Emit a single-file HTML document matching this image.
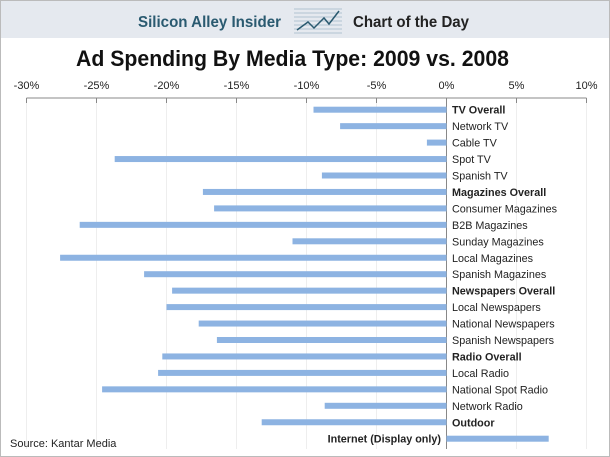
<!DOCTYPE html>
<html><head><meta charset="utf-8"><style>
body{margin:0;width:610px;height:457px;overflow:hidden;background:#fff;font-family:"Liberation Sans",sans-serif}
#wrap{position:absolute;left:0;top:0;width:608px;height:455px;border:1px solid #bbb}
#hdr{position:absolute;left:0;top:0;width:608px;height:37px;background:#e5e9ef}
</style></head><body>
<div id="wrap">
<div id="hdr"></div>
<svg id="svg" width="610" height="457" style="position:absolute;left:-1px;top:-1px">
<text x="138" y="27" textLength="143" lengthAdjust="spacingAndGlyphs" font-size="16" font-weight="bold" fill="#2a5a70">Silicon Alley Insider</text>
<g stroke="#9fb4c8" stroke-width="0.7">
<line x1="294" y1="9" x2="342" y2="9"/><line x1="294" y1="13" x2="342" y2="13"/><line x1="294" y1="17" x2="342" y2="17"/><line x1="294" y1="21" x2="342" y2="21"/><line x1="294" y1="25" x2="342" y2="25"/><line x1="294" y1="29" x2="342" y2="29"/><line x1="294" y1="33" x2="342" y2="33"/>
<polyline points="297,30 308,22 314,28 324,18 329,24 339,11" fill="none" stroke="#2a5a70" stroke-width="1.5"/></g>
<text x="353" y="27" textLength="116" lengthAdjust="spacingAndGlyphs" font-size="16" font-weight="bold" fill="#222">Chart of the Day</text>
<text x="76" y="66" textLength="433" lengthAdjust="spacingAndGlyphs" font-size="22" font-weight="bold" fill="#111">Ad Spending By Media Type: 2009 vs. 2008</text>
<g id="g"></g>
<text x="10" y="447" font-size="11" fill="#222">Source: Kantar Media</text>
</svg></div>
<script>
const categories=["TV Overall","Network TV","Cable TV","Spot TV","Spanish TV","Magazines Overall","Consumer Magazines","B2B Magazines","Sunday Magazines","Local Magazines","Spanish Magazines","Newspapers Overall","Local Newspapers","National Newspapers","Spanish Newspapers","Radio Overall","Local Radio","National Spot Radio","Network Radio","Outdoor","Internet (Display only)"];
const values=[-9.5,-7.6,-1.4,-23.7,-8.9,-17.4,-16.6,-26.2,-11,-27.6,-21.6,-19.6,-20,-17.7,-16.4,-20.3,-20.6,-24.6,-8.7,-13.2,7.3];
const bold=[1,0,0,0,0,1,0,0,0,0,0,1,0,0,0,1,0,0,0,1,1];
const ticks=[-30,-25,-20,-15,-10,-5,0,5,10];
const NS="http://www.w3.org/2000/svg",g=document.getElementById('g');
const x=v=>446.5+v*14;
const y=i=>106.7+i*16.45;
function mk(t,a){const e=document.createElementNS(NS,t);for(const k in a)e.setAttribute(k,a[k]);g.appendChild(e);return e;}
ticks.forEach(t=>{
 const gl=mk('line',{x1:x(t),x2:x(t),y1:98,y2:449,stroke:t==0?'#888':'#eee','stroke-width':1});
 
 
 const tk=mk('line',{x1:x(t),x2:x(t),y1:98,y2:103,stroke:'#888'});
 
 
 const tl=mk('text',{x:x(t),y:89,'text-anchor':'middle','font-size':11,fill:'#222'});
 tl.textContent=t+'%';
 
 
});
const ax=mk('line',{x1:x(-30),x2:x(10),y1:98,y2:98,stroke:'#888'});


categories.forEach((c,i)=>{
 const v=values[i];
 const b=mk('rect',{x:Math.min(x(0),x(v)),y:y(i),width:Math.abs(x(v)-x(0)),height:6,fill:'#8db3e2'});
 
 
 const neg=v<0;
 const t=mk('text',{x:neg?452:441,y:y(i)+7,'text-anchor':neg?'start':'end','font-size':10.8,fill:'#222','font-weight':bold[i]?'bold':'normal'});
 t.textContent=c;
 
 
});
</script>
</body></html>
